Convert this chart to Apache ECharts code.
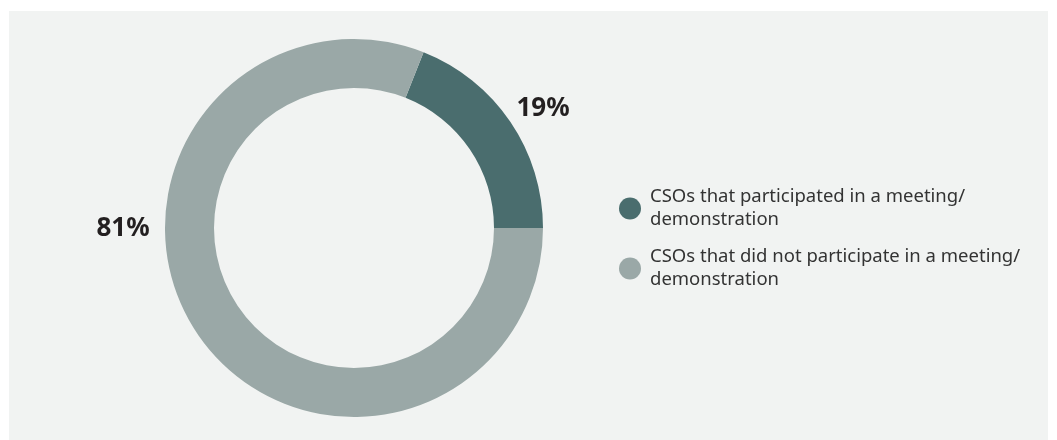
<!DOCTYPE html>
<html>
<head>
<meta charset="utf-8">
<style>
  html, body { margin: 0; padding: 0; background: #ffffff; }
  #chart { width: 1057px; height: 440px; }
</style>
<script src="https://cdn.jsdelivr.net/npm/echarts@6/dist/echarts.min.js"></script>
</head>
<body>
<div id="chart"></div>
<script>
// Share of civil society organisations by participation
const categories = [
  'CSOs that participated in a meeting/\ndemonstration',
  'CSOs that did not participate in a meeting/\ndemonstration'
];
const shares = [19, 81];
const colors = ['#4a6d6e', '#9aa8a7'];

// Where each percentage label sits (pixel centre)
const labelSpots = [[543, 109], [123, 229]];

const chart = echarts.init(document.getElementById('chart'), null, { renderer: 'canvas' });

chart.setOption({
  backgroundColor: '#ffffff',
  animation: false,
  textStyle: { fontFamily: '"Noto Sans", "Open Sans", sans-serif' },
  graphic: [{
    type: 'rect',
    z: -10,
    silent: true,
    shape: { x: 9, y: 11, width: 1039, height: 440 },
    style: { fill: '#f1f3f2' }
  }],
  legend: {
    orient: 'vertical',
    left: 619,
    top: 174,
    padding: 0,
    itemGap: -9,
    icon: 'circle',
    itemWidth: 22,
    itemHeight: 22,
    selectedMode: false,
    textStyle: {
      fontFamily: '"Noto Sans", sans-serif',
      fontSize: 18.5,
      lineHeight: 23,
      color: '#333333',
      padding: [23, 0, 0, 4]
    }
  },
  series: [{
    type: 'pie',
    center: [354, 228],
    radius: [140, 189],
    startAngle: 0,
    clockwise: false,
    silent: true,
    emphasis: { disabled: true },
    label: {
      show: true,
      position: 'outside',
      formatter: '{c}%',
      fontFamily: '"Noto Sans", sans-serif',
      fontWeight: 'bold',
      fontSize: 26,
      color: '#231f20'
    },
    labelLine: { show: false },
    labelLayout: function (p) {
      const s = labelSpots[p.dataIndex];
      return { x: s[0], y: s[1], align: 'center', verticalAlign: 'middle' };
    },
    data: categories.map((name, i) => ({
      name: name,
      value: shares[i],
      itemStyle: { color: colors[i] }
    }))
  }]
});
</script>
</body>
</html>
